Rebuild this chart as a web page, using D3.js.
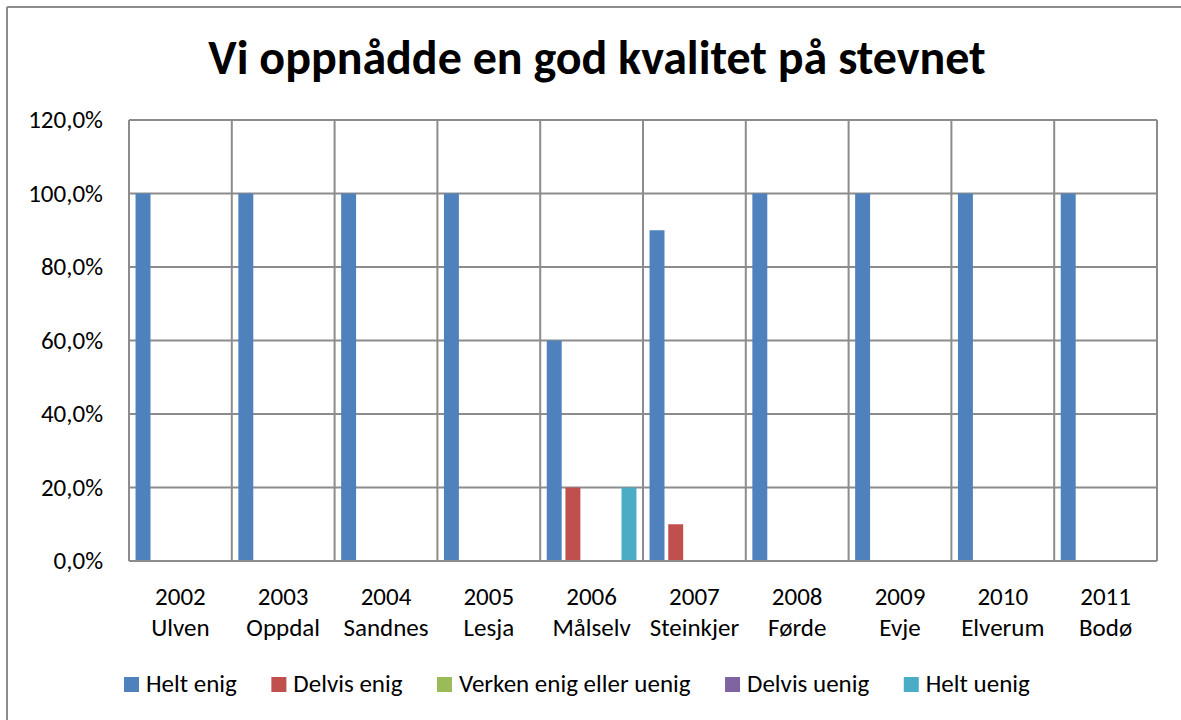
<!DOCTYPE html>
<html>
<head>
<meta charset="utf-8">
<script src="https://cdn.jsdelivr.net/npm/d3@7"></script>
<style>
  body { margin: 0; background: #fff; }
  svg text { font-family: Calibri, Carlito, Lato, "Open Sans", sans-serif; fill: #000; }
</style>
</head>
<body>
<svg id="chart"></svg>
<script>
const years = ['2002', '2003', '2004', '2005', '2006', '2007', '2008', '2009', '2010', '2011'];
const places = ['Ulven', 'Oppdal', 'Sandnes', 'Lesja', 'Målselv', 'Steinkjer', 'Førde', 'Evje', 'Elverum', 'Bodø'];

const seriesNames = ['Helt enig', 'Delvis enig', 'Verken enig eller uenig', 'Delvis uenig', 'Helt uenig'];
const heltEnig = [1, 1, 1, 1, 0.6, 0.9, 1, 1, 1, 1];
const delvisEnig = [0, 0, 0, 0, 0.2, 0.1, 0, 0, 0, 0];
const verken = [0, 0, 0, 0, 0, 0, 0, 0, 0, 0];
const delvisUenig = [0, 0, 0, 0, 0, 0, 0, 0, 0, 0];
const heltUenig = [0, 0, 0, 0, 0.2, 0, 0, 0, 0, 0];
const yTicks = [0, 0.2, 0.4, 0.6, 0.8, 1.0, 1.2];

const colors = ['#4F81BD', '#C0504D', '#9BBB59', '#8064A2', '#4BACC6'];
const gridColor = '#8c8c8c';

const width = 1181;
const height = 720;
const margin = { top: 120, right: 24, bottom: 159, left: 129 };
const labelSize = '25px';

const svg = d3.select('#chart')
  .attr('width', width)
  .attr('height', height);

// chart frame (only left and top visible in the crop)
svg.append('line').attr('x1', 7).attr('x2', 7).attr('y1', 7).attr('y2', height)
  .attr('stroke', gridColor).attr('stroke-width', 2);
svg.append('line').attr('x1', 7).attr('x2', width).attr('y1', 7).attr('y2', 7)
  .attr('stroke', gridColor).attr('stroke-width', 2);

svg.append('text')
  .attr('x', 597)
  .attr('y', 74)
  .attr('text-anchor', 'middle')
  .style('font-size', '48px')
  .style('font-weight', 'bold')
  .text('Vi oppnådde en god kvalitet på stevnet');

const values = [heltEnig, delvisEnig, verken, delvisUenig, heltUenig];
const rows = years.map((y, i) => ({
  key: y,
  place: places[i],
  bars: seriesNames.map((s, j) => ({ series: s, value: values[j][i], color: colors[j] }))
}));

const x0 = d3.scaleBand()
  .domain(years)
  .range([margin.left, width - margin.right])
  .padding(0);

const x1 = d3.scaleBand()
  .domain(seriesNames)
  .range([0, x0.bandwidth()])
  .paddingInner(0.2)
  .paddingOuter(0.35);

const y = d3.scaleLinear()
  .domain([0, 1.2])
  .range([height - margin.bottom, margin.top]);

const fmt = d => d3.format('.1f')(d * 100).replace('.', ',') + '%';

// horizontal gridlines
svg.append('g')
  .selectAll('line')
  .data(yTicks)
  .enter()
  .append('line')
  .attr('x1', margin.left)
  .attr('x2', width - margin.right)
  .attr('y1', d => y(d))
  .attr('y2', d => y(d))
  .attr('stroke', gridColor)
  .attr('stroke-width', 2);

// vertical gridlines at category boundaries
const bounds = years.map(d => x0(d)).concat([width - margin.right]);
svg.append('g')
  .selectAll('line')
  .data(bounds)
  .enter()
  .append('line')
  .attr('x1', d => d)
  .attr('x2', d => d)
  .attr('y1', margin.top)
  .attr('y2', height - margin.bottom)
  .attr('stroke', gridColor)
  .attr('stroke-width', 2);

// y labels
svg.append('g')
  .selectAll('text')
  .data(yTicks)
  .enter()
  .append('text')
  .attr('x', 103)
  .attr('y', d => y(d) + 8)
  .attr('text-anchor', 'end')
  .style('font-size', labelSize)
  .text(fmt);

// bars
const group = svg.append('g')
  .selectAll('g')
  .data(rows)
  .enter()
  .append('g')
  .attr('transform', d => `translate(${x0(d.key)},0)`);

group.selectAll('rect')
  .data(d => d.bars)
  .enter()
  .append('rect')
  .attr('x', d => x1(d.series))
  .attr('width', x1.bandwidth())
  .attr('y', d => y(d.value))
  .attr('height', d => y(0) - y(d.value))
  .attr('fill', d => d.color);

// base axis line drawn on top
svg.append('line')
  .attr('x1', margin.left)
  .attr('x2', width - margin.right)
  .attr('y1', y(0))
  .attr('y2', y(0))
  .attr('stroke', gridColor)
  .attr('stroke-width', 2);

// category labels
const cat = svg.append('g')
  .selectAll('text')
  .data(rows)
  .enter()
  .append('text')
  .attr('text-anchor', 'middle')
  .style('font-size', labelSize);

cat.append('tspan')
  .attr('x', d => x0(d.key) + x0.bandwidth() / 2)
  .attr('y', 605)
  .text(d => d.key);

cat.append('tspan')
  .attr('x', d => x0(d.key) + x0.bandwidth() / 2)
  .attr('y', 636)
  .text(d => d.place);

// legend
const legend = svg.append('g');
const items = legend.selectAll('g')
  .data(seriesNames)
  .enter()
  .append('g');

items.append('rect')
  .attr('width', 15)
  .attr('height', 15)
  .attr('y', 677)
  .attr('fill', (d, i) => colors[i]);

items.append('text')
  .attr('x', 22)
  .attr('y', 692)
  .style('font-size', labelSize)
  .text(d => d);

let pos = 0;
const offsets = [];
const widths = [];
items.each(function () {
  widths.push(this.getBBox().width);
});
const gap = (1030 - 124 - d3.sum(widths)) / (widths.length - 1);
widths.forEach(w => {
  offsets.push(pos);
  pos += w + gap;
});
items.attr('transform', (d, i) => `translate(${124 + offsets[i]},0)`);
</script>
</body>
</html>
